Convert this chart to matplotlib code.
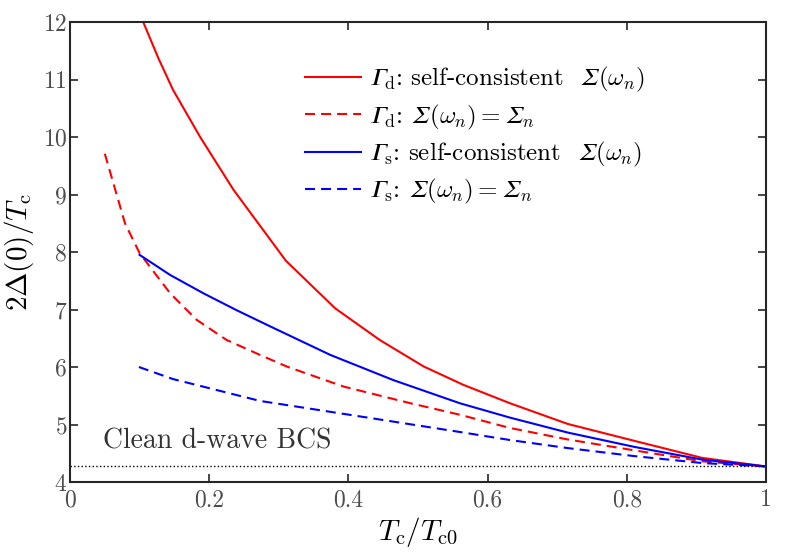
import numpy as np
import matplotlib
matplotlib.use('Agg')
import matplotlib.pyplot as plt

# Gamma_d, self-consistent Sigma(omega_n)
x_d_sc = [0.100, 0.127, 0.148, 0.187, 0.235, 0.310, 0.381, 0.445, 0.508, 0.565,
          0.632, 0.715, 0.811, 0.908, 1.0]
y_d_sc = [12.15, 11.37, 10.82, 10.00, 9.08, 7.85, 7.02, 6.47, 6.01, 5.69,
          5.37, 5.01, 4.715, 4.42, 4.27]

# Gamma_d, Sigma(omega_n) = Sigma_n
x_d_n = [0.050, 0.079, 0.100, 0.144, 0.182, 0.225, 0.273, 0.311, 0.393, 0.489,
         0.560, 0.632, 0.715, 0.811, 0.908, 1.0]
y_d_n = [9.71, 8.50, 7.98, 7.28, 6.82, 6.47, 6.21, 6.01, 5.66, 5.37,
         5.17, 4.94, 4.74, 4.55, 4.36, 4.27]

# Gamma_s, self-consistent Sigma(omega_n)
x_s_sc = [0.100, 0.144, 0.192, 0.239, 0.287, 0.374, 0.465, 0.560, 0.632, 0.715,
          0.811, 0.908, 1.0]
y_s_sc = [7.95, 7.60, 7.28, 6.99, 6.71, 6.21, 5.77, 5.37, 5.12, 4.86,
          4.61, 4.39, 4.27]

# Gamma_s, Sigma(omega_n) = Sigma_n
x_s_n = [0.099, 0.148, 0.273, 0.417, 0.560, 0.632, 0.715, 0.811, 0.908, 1.0]
y_s_n = [6.00, 5.79, 5.41, 5.14, 4.87, 4.73, 4.59, 4.45, 4.33, 4.27]

bcs_clean = 4.28

plt.rcParams['font.family'] = 'serif'
plt.rcParams['font.serif'] = ['cmr10', 'DejaVu Serif']
plt.rcParams['mathtext.fontset'] = 'cm'
plt.rcParams['axes.formatter.use_mathtext'] = True

G = '\U0001D6E4'   # italic capital Gamma
S = '\U0001D6F4'   # italic capital Sigma

fig = plt.figure(figsize=(7.89, 5.52), dpi=100)
ax = fig.add_axes([0.0887, 0.1268, 0.8823, 0.8333])

dash = (0, (4.8, 2.9))
ax.plot(x_d_sc, y_d_sc, color='red', lw=1.5, ls='-',
        label=rf'${G}_\mathrm{{d}}$: self-consistent  ${S}(\omega_n)$')
ax.plot(x_d_n, y_d_n, color='red', lw=1.5, ls=dash,
        label=rf'${G}_\mathrm{{d}}$: ${S}(\omega_n)={S}_n$')
ax.plot(x_s_sc, y_s_sc, color='blue', lw=1.5, ls='-',
        label=rf'${G}_\mathrm{{s}}$: self-consistent  ${S}(\omega_n)$')
ax.plot(x_s_n, y_s_n, color='blue', lw=1.5, ls=dash,
        label=rf'${G}_\mathrm{{s}}$: ${S}(\omega_n)={S}_n$')
ax.axhline(bcs_clean, color='black', lw=1.0, ls=':')
ax.text(0.048, 4.58, 'Clean d-wave BCS', fontsize=20, color='#333333')

ax.set_xlim(0, 1)
ax.set_ylim(4, 12)
ax.set_xticks([0, 0.2, 0.4, 0.6, 0.8, 1])
ax.set_xticklabels(['0', '0.2', '0.4', '0.6', '0.8', '1'])
ax.set_yticks(range(4, 13))
ax.tick_params(direction='in', top=True, right=True, length=6, width=1.2,
               labelsize=17, labelcolor='#4d4d4d', color='#262626')
ax.tick_params(axis='x', pad=5)
ax.tick_params(axis='y', pad=2)
for s in ax.spines.values():
    s.set_linewidth(1.5)
    s.set_color('#262626')

ax.set_xlabel(r'$T_\mathrm{c}/T_\mathrm{c0}$', fontsize=21, labelpad=3)
ax.set_ylabel(r'$2\Delta(0)/T_\mathrm{c}$', fontsize=21, labelpad=5)

ax.legend(loc='upper left', bbox_to_anchor=(0.305, 0.955), frameon=False,
          fontsize=18, handlelength=2.25, handletextpad=0.3, labelspacing=0.33)

fig.savefig('out.png', dpi=100)
